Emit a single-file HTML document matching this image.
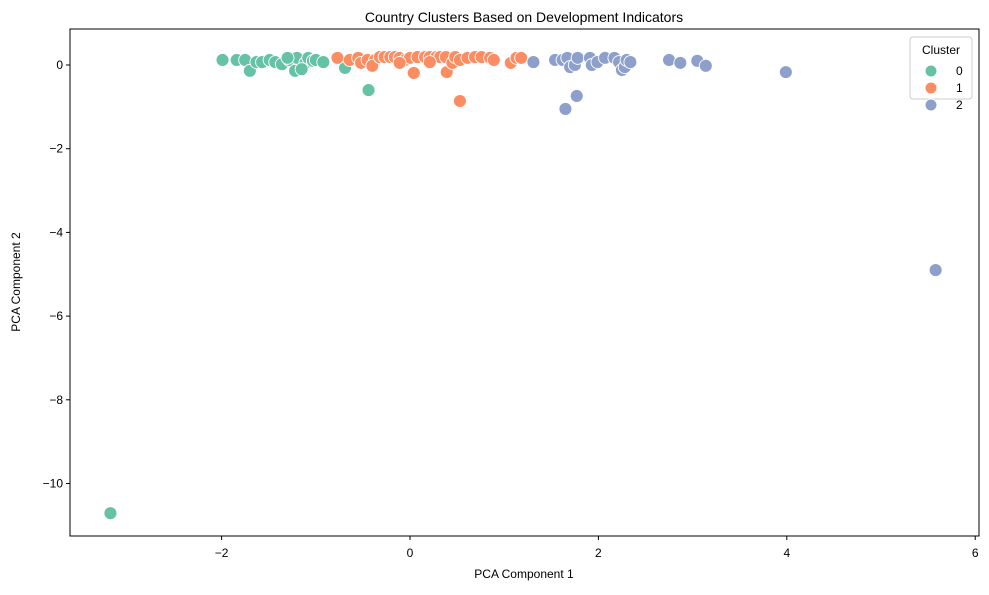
<!DOCTYPE html>
<html><head><meta charset="utf-8"><style>
body{margin:0;background:#fff}
svg text{font-family:"Liberation Sans",sans-serif;fill:#000}
</style></head><body>
<svg id="chart" width="989" height="590">
<rect x="0" y="0" width="989" height="590" fill="#fff"/>
<text x="524" y="22" font-size="14" text-anchor="middle">Country Clusters Based on Development Indicators</text>
<g id="marks"></g>
<rect x="70" y="29" width="909" height="507" fill="none" stroke="#000" stroke-width="1"/>
<g id="axes"></g>
<text x="524" y="578" font-size="12" text-anchor="middle">PCA Component 1</text>
<text transform="translate(20,282) rotate(-90)" font-size="12" text-anchor="middle">PCA Component 2</text>
<g>
<rect x="910" y="37" width="62" height="62" rx="3" fill="#fff" fill-opacity="0.8" stroke="#ccc"/>
<text x="941" y="54" font-size="12" text-anchor="middle">Cluster</text>
<g id="legend-items"></g>
</g>
</svg>
<script>
const clusters=["0","1","2"];
const colors=["#66c2a5","#fc8d62","#8da0cb"];
const c0x=[-1.99,-1.84,-1.75,-1.70,-1.63,-1.57,-1.49,-1.43,-1.36,-1.28,-1.22,-1.20,-1.11,-1.08,-1.03,-1.00,-0.92,-0.69,-0.44,-3.18,-1.30,-1.15];
const c0y=[0.12,0.12,0.12,-0.14,0.07,0.07,0.12,0.07,0.02,0.12,-0.14,0.17,0.05,0.17,0.10,0.12,0.07,-0.07,-0.60,-10.71,0.17,-0.10];
const c1x=[-0.77,-0.64,-0.55,-0.52,-0.45,-0.37,-0.40,-0.32,-0.27,-0.21,-0.16,-0.11,-0.05,0.00,0.04,0.08,0.16,0.21,0.28,0.32,0.38,0.39,0.45,0.48,0.53,0.61,0.69,0.76,0.85,0.89,1.07,1.13,1.18,0.53,-0.11,0.21];
const c1y=[0.17,0.12,0.17,0.05,0.12,0.12,-0.02,0.19,0.19,0.19,0.19,0.17,0.12,0.17,-0.19,0.19,0.19,0.19,0.19,0.19,0.19,-0.17,0.05,0.19,0.12,0.17,0.19,0.19,0.17,0.12,0.05,0.17,0.17,-0.86,0.05,0.07];
const c2x=[1.31,1.54,1.62,1.67,1.70,1.75,1.78,1.91,1.93,1.99,2.07,2.17,2.22,2.25,2.28,2.30,2.34,2.75,2.87,3.05,3.14,3.99,1.65,1.77,5.58];
const c2y=[0.07,0.12,0.12,0.17,-0.05,0.00,0.17,0.17,0.00,0.07,0.17,0.17,0.07,-0.12,-0.05,0.12,0.07,0.12,0.05,0.10,-0.02,-0.17,-1.05,-0.74,-4.90];
const xTicks=[-2,0,2,4,6];
const yTicks=[0,-2,-4,-6,-8,-10];
const X=v=>410+v*94.2, Y=v=>65-v*41.85;
const NS="http://www.w3.org/2000/svg";
function mk(t,a,p){const e=document.createElementNS(NS,t);for(const k in a)e.setAttribute(k,a[k]);p.appendChild(e);return e;}
const marks=document.getElementById('marks');
[[c0x,c0y],[c1x,c1y],[c2x,c2y]].forEach((s,ci)=>{
 s[0].forEach((xv,i)=>{
  const c=mk('circle',{cx:X(xv),cy:Y(s[1][i]),r:6.5,fill:colors[ci],stroke:'#fff','stroke-width':0.9},marks);
  
  
 });
});
const axes=document.getElementById('axes');
xTicks.forEach(t=>{
 const l=mk('line',{x1:X(t),x2:X(t),y1:536,y2:540,stroke:'#000'},axes);
 
 
 const tx=mk('text',{x:X(t),y:557,'font-size':12,'text-anchor':'middle'},axes);
 tx.textContent=t<0?'\u2212'+Math.abs(t):t;
 
 
});
yTicks.forEach(t=>{
 const l=mk('line',{x1:66,x2:70,y1:Y(t),y2:Y(t),stroke:'#000'},axes);
 
 
 const tx=mk('text',{x:63,y:Y(t)+4,'font-size':12,'text-anchor':'end'},axes);
 tx.textContent=t<0?'\u2212'+Math.abs(t):t;
 
 
});
const li=document.getElementById('legend-items');
clusters.forEach((c,i)=>{
 const g=mk('g',{},li);
 
 
 mk('circle',{cx:931,cy:71+i*17,r:6,fill:colors[i],stroke:'#fff'},g);
 const t=mk('text',{x:956,y:75+i*17,'font-size':12},g);
 t.textContent=c;
});
</script>
</body></html>
